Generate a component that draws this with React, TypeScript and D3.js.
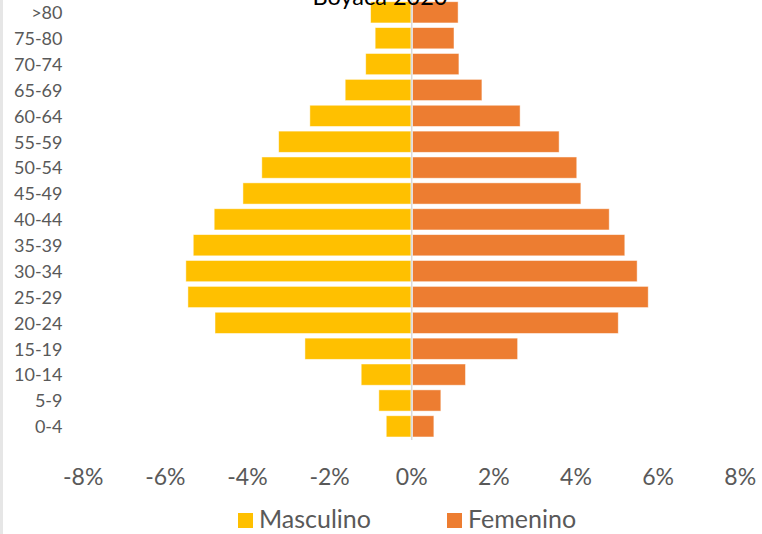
import React from "react";
import * as d3 from "d3";

const ageGroups = ["0-4", "5-9", "10-14", "15-19", "20-24", "25-29", "30-34", "35-39", "40-44", "45-49", "50-54", "55-59", "60-64", "65-69", "70-74", "75-80", ">80"];
const masculino = [-0.62, -0.8, -1.23, -2.6, -4.79, -5.45, -5.5, -5.32, -4.81, -4.11, -3.65, -3.24, -2.48, -1.62, -1.12, -0.89, -1.0];
const femenino = [0.54, 0.71, 1.31, 2.58, 5.03, 5.76, 5.49, 5.19, 4.81, 4.12, 4.02, 3.59, 2.64, 1.71, 1.15, 1.03, 1.13];
const xTicks = [-8, -6, -4, -2, 0, 2, 4, 6, 8];
const seriesNames = ["Masculino", "Femenino"];
const title = "Boyacá 2020";

const W = 762;
const H = 534;
const FONT = "Lato, 'Open Sans', sans-serif";
const YELLOW = "#FFC000";
const ORANGE = "#ED7D31";
const GRAY_TEXT = "#595959";

export default function App() {
  const x = d3.scaleLinear().domain([-8, 8]).range([83.2, 740.2]);
  const y = d3
    .scaleBand<string>()
    .domain([...ageGroups].reverse())
    .range([-0.6, 439.3])
    .paddingInner(0.18)
    .paddingOuter(0.09);
  const bh = y.bandwidth();
  const x0 = x(0);

  return (
    <svg
      width={W}
      height={H}
      style={{ position: "absolute", left: 0, top: 0, background: "#fff" }}
      fontFamily={FONT}
    >
      <rect x={0} y={0} width={3} height={H} fill="#e6e6e6" />
      {/* bars */}
      {ageGroups.map((g, i) => {
        const yy = y(g) as number;
        const m = masculino[i];
        const f = femenino[i];
        return (
          <g key={g}>
            <rect
              x={x(m)}
              y={yy}
              width={x0 - 0.8 - x(m)}
              height={bh}
              fill={YELLOW}
              stroke="rgba(255,255,255,0.6)"
              strokeWidth={0.8}
            />
            <rect
              x={x0 + 0.9}
              y={yy}
              width={x(f) - x0 - 0.9}
              height={bh}
              fill={ORANGE}
              stroke="rgba(255,255,255,0.6)"
              strokeWidth={0.8}
            />
          </g>
        );
      })}
      {/* zero axis */}
      <line x1={x0} x2={x0} y1={0} y2={440} stroke="#d9d9d9" strokeWidth={1.5} />
      {/* title (clipped at top) */}
      <text x={380} y={5} textAnchor="middle" fontSize={23.5} fill="#000">
        {title}
      </text>
      {/* y labels */}
      {ageGroups.map((g) => (
        <text
          key={g}
          x={62.5}
          y={(y(g) as number) + bh / 2}
          dy="0.38em"
          textAnchor="end"
          fontSize={18}
          fill={GRAY_TEXT}
        >
          {g}
        </text>
      ))}
      {/* x tick labels */}
      {xTicks.map((t) => (
        <text key={t} x={x(t)} y={485} textAnchor="middle" fontSize={23} fill={GRAY_TEXT}>
          {`${t}%`}
        </text>
      ))}
      {/* legend */}
      <rect x={238} y={513} width={15} height={15} fill={YELLOW} />
      <text x={259} y={528} fontSize={25} fill={GRAY_TEXT}>
        {seriesNames[0]}
      </text>
      <rect x={447} y={513} width={15} height={15} fill={ORANGE} />
      <text x={468} y={528} fontSize={25} fill={GRAY_TEXT}>
        {seriesNames[1]}
      </text>
    </svg>
  );
}
